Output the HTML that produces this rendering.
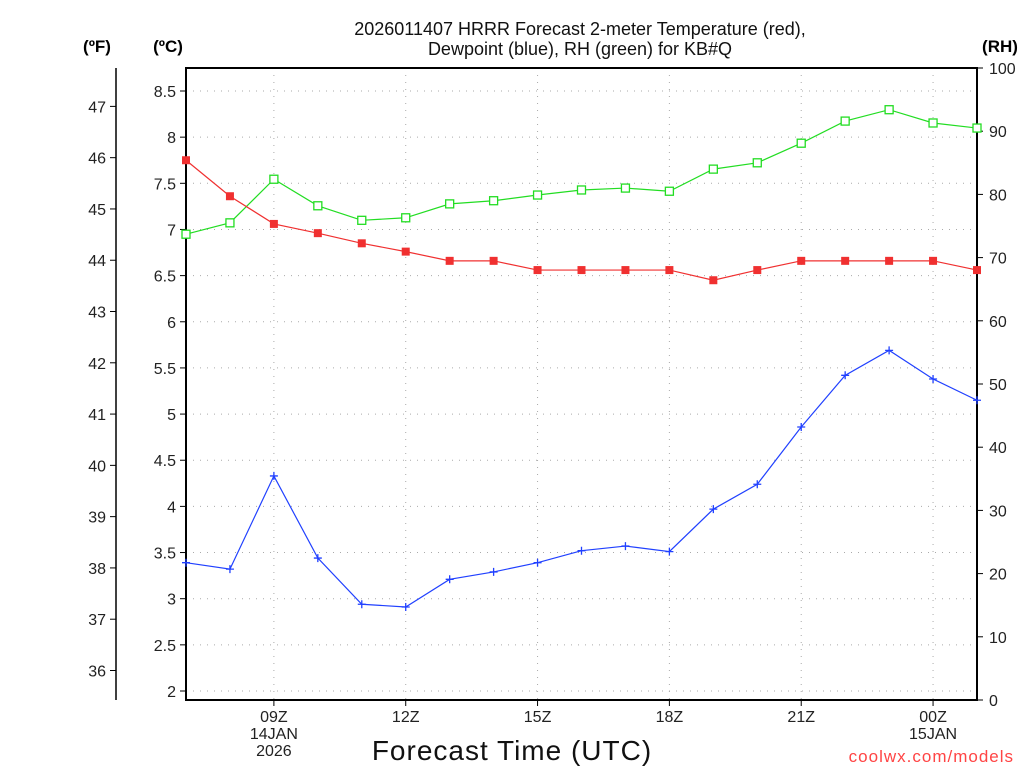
<!DOCTYPE html>
<html><head><meta charset="utf-8"><style>
body{margin:0;background:#fff;}
svg text{font-family:"Liberation Sans",sans-serif;}
</style></head><body>
<svg id="c" width="1024" height="768" xmlns="http://www.w3.org/2000/svg"></svg>
<script>
const hours = ["07","08","09","10","11","12","13","14","15","16","17","18","19","20","21","22","23","00","01"];
const tempC = [7.75,7.36,7.06,6.96,6.85,6.76,6.66,6.66,6.56,6.56,6.56,6.56,6.45,6.56,6.66,6.66,6.66,6.66,6.56];
const dewC = [3.39,3.32,4.33,3.44,2.94,2.91,3.21,3.29,3.39,3.52,3.57,3.51,3.97,4.24,4.86,5.42,5.69,5.38,5.15];
const rh = [73.7,75.5,82.4,78.2,75.9,76.3,78.5,79.0,79.9,80.7,81.0,80.5,84.0,85.0,88.1,91.6,93.4,91.3,90.5];
const cTicks = [2,2.5,3,3.5,4,4.5,5,5.5,6,6.5,7,7.5,8,8.5];
const fTicks = [36,37,38,39,40,41,42,43,44,45,46,47];
const rhTicks = [0,10,20,30,40,50,60,70,80,90,100];
const xTickLabels = [{i:2,l:["09Z","14JAN","2026"]},{i:5,l:["12Z"]},{i:8,l:["15Z"]},{i:11,l:["18Z"]},{i:14,l:["21Z"]},{i:17,l:["00Z","15JAN"]}];

const L=186,R=977,T=68,B=700;
const X=i=>L+(R-L)*i/(hours.length-1);
const YC=c=>691-(c-2)*(600/6.5);
const YF=f=>YC((f-32)*5/9);
const YR=r=>B-(B-T)*r/100;
const svg=document.getElementById('c');
const NS='http://www.w3.org/2000/svg';
function mk(tag,attrs,name,txt){const e=document.createElementNS(NS,tag);for(const k in attrs)e.setAttribute(k,attrs[k]);


if(txt!==undefined)e.textContent=txt;svg.appendChild(e);return e;}

// gridlines
cTicks.forEach(c=>mk('line',{x1:L,x2:R,y1:YC(c),y2:YC(c),stroke:'#aaa','stroke-dasharray':'1 6'},'h-gridline'));
xTickLabels.forEach(t=>mk('line',{x1:X(t.i),x2:X(t.i),y1:T,y2:B,stroke:'#aaa','stroke-dasharray':'1 6'},'v-gridline'));
// frame
mk('rect',{x:L,y:T,width:R-L,height:B-T,fill:'none',stroke:'#000','stroke-width':2},'plot-frame');
// C axis
cTicks.forEach(c=>{mk('line',{x1:L-6,x2:L,y1:YC(c),y2:YC(c),stroke:'#000'},'c-tick');
mk('text',{x:L-10,y:YC(c)+6,'text-anchor':'end','font-size':16,fill:'#222'},'c-tick-label',String(c));});
// F axis
mk('line',{x1:116,x2:116,y1:68,y2:700,stroke:'#000','stroke-width':1.5},'f-axis-line');
fTicks.forEach(f=>{mk('line',{x1:110,x2:116,y1:YF(f),y2:YF(f),stroke:'#000'},'f-tick');
mk('text',{x:106,y:YF(f)+6,'text-anchor':'end','font-size':16,fill:'#222'},'f-tick-label',String(f));});
// RH axis
rhTicks.forEach(r=>{mk('line',{x1:R,x2:R+6,y1:YR(r),y2:YR(r),stroke:'#000'},'rh-tick');
mk('text',{x:R+12,y:YR(r)+6,'text-anchor':'start','font-size':16,fill:'#222'},'rh-tick-label',String(r));});
// x ticks
xTickLabels.forEach(t=>{mk('line',{x1:X(t.i),x2:X(t.i),y1:B,y2:B+6,stroke:'#000'},'x-tick');
t.l.forEach((s,k)=>mk('text',{x:X(t.i),y:B+22+k*17,'text-anchor':'middle','font-size':16,fill:'#222'},'x-tick-label',s));});
// titles
mk('text',{x:580,y:35,'text-anchor':'middle','font-size':18,fill:'#111'},'chart-title-line1','2026011407 HRRR Forecast 2-meter Temperature (red),');
mk('text',{x:580,y:55,'text-anchor':'middle','font-size':18,fill:'#111'},'chart-title-line2','Dewpoint (blue), RH (green) for KB#Q');
mk('text',{x:97,y:52,'text-anchor':'middle','font-size':17,'font-weight':'bold'},'f-axis-title','(ºF)');
mk('text',{x:168,y:52,'text-anchor':'middle','font-size':17,'font-weight':'bold'},'c-axis-title','(ºC)');
mk('text',{x:1000,y:52,'text-anchor':'middle','font-size':17,'font-weight':'bold'},'rh-axis-title','(RH)');
mk('text',{x:512,y:760,'text-anchor':'middle','font-size':28,fill:'#111','letter-spacing':1},'x-axis-title','Forecast Time (UTC)');
mk('text',{x:1014,y:762,'text-anchor':'end','font-size':17,fill:'#f44','letter-spacing':1},'credit-text','coolwx.com/models');

function series(vals,yf,color,name,marker){
 mk('polyline',{points:vals.map((v,i)=>X(i)+','+yf(v)).join(' '),fill:'none',stroke:color,'stroke-width':1.2},name+'-line');
 vals.forEach((v,i)=>{const x=X(i),y=yf(v);
  if(marker==='sq')mk('rect',{x:x-4,y:y-4,width:8,height:8,fill:color},name+'-point');
  else if(marker==='open')mk('rect',{x:x-4,y:y-4,width:8,height:8,fill:'#fff',stroke:color,'stroke-width':1.3},name+'-point');
  else mk('path',{d:`M${x-4} ${y}H${x+4}M${x} ${y-4}V${y+4}`,stroke:color,'stroke-width':1.3},name+'-point');});
}
series(rh,YR,'#22dd22','rh','open');
series(tempC,YC,'#f03030','temp','sq');
series(dewC,YC,'#2040ff','dewpoint','plus');
</script>
</body></html>
